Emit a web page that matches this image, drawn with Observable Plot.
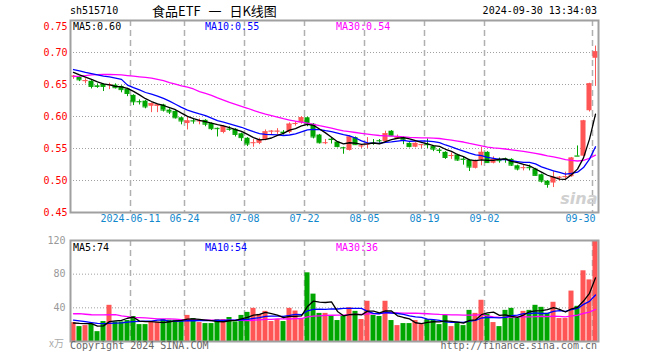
<!DOCTYPE html>
<html><head><meta charset="utf-8">
<script src="https://cdn.jsdelivr.net/npm/d3@7"></script>
<script src="https://cdn.jsdelivr.net/npm/@observablehq/plot@0.6"></script>
<style>
body{margin:0;background:#fff;}
#wrap{position:relative;width:660px;height:360px;overflow:hidden;font-family:"DejaVu Sans Mono",monospace;}
.t{position:absolute;white-space:nowrap;font-size:10px;line-height:12px;}
.p{position:absolute;left:0;}
</style></head><body><div id="wrap"></div>
<script>
// ---- data ----
const dates = [
"2024-05-27","2024-05-28","2024-05-29","2024-05-30","2024-05-31",
"2024-06-03","2024-06-04","2024-06-05","2024-06-06","2024-06-07",
"2024-06-11","2024-06-12","2024-06-13","2024-06-14",
"2024-06-17","2024-06-18","2024-06-19","2024-06-20","2024-06-21",
"2024-06-24","2024-06-25","2024-06-26","2024-06-27","2024-06-28",
"2024-07-01","2024-07-02","2024-07-03","2024-07-04","2024-07-05",
"2024-07-08","2024-07-09","2024-07-10","2024-07-11","2024-07-12",
"2024-07-15","2024-07-16","2024-07-17","2024-07-18","2024-07-19",
"2024-07-22","2024-07-23","2024-07-24","2024-07-25","2024-07-26",
"2024-07-29","2024-07-30","2024-07-31","2024-08-01","2024-08-02",
"2024-08-05","2024-08-06","2024-08-07","2024-08-08","2024-08-09",
"2024-08-12","2024-08-13","2024-08-14","2024-08-15","2024-08-16",
"2024-08-19","2024-08-20","2024-08-21","2024-08-22","2024-08-23",
"2024-08-26","2024-08-27","2024-08-28","2024-08-29","2024-08-30",
"2024-09-02","2024-09-03","2024-09-04","2024-09-05","2024-09-06",
"2024-09-09","2024-09-10","2024-09-11","2024-09-12","2024-09-13",
"2024-09-18","2024-09-19","2024-09-20",
"2024-09-23","2024-09-24","2024-09-25","2024-09-26","2024-09-27",
"2024-09-30"];
const open = [0.662,0.6615,0.655,0.655,0.648,0.650,0.648,0.649,0.647,0.643,
0.633,0.6235,0.624,0.616,0.616,0.618,0.610,0.608,0.598,0.589,
0.5935,0.5925,0.594,0.589,0.5815,0.575,0.5805,0.580,0.573,0.566,
0.5585,0.558,0.563,0.5765,0.5765,0.5755,0.575,0.5885,0.590,0.598,
0.588,0.571,0.5585,0.5645,0.560,0.5515,0.547,0.567,0.5535,0.556,
0.5585,0.5625,0.561,0.577,0.5665,0.567,0.558,0.552,0.5555,0.5565,
0.553,0.5475,0.544,0.5385,0.540,0.5335,0.532,0.519,0.532,0.544,
0.527,0.5315,0.534,0.533,0.523,0.5195,0.5205,0.518,0.509,0.499,
0.496,0.5045,0.5055,0.506,0.5385,0.538,0.609,0.691];
const high = [0.664,0.662,0.659,0.656,0.651,0.651,0.652,0.651,0.648,0.644,
0.634,0.626,0.625,0.621,0.619,0.619,0.612,0.609,0.599,0.599,
0.597,0.596,0.595,0.590,0.582,0.586,0.584,0.581,0.574,0.567,
0.564,0.566,0.579,0.578,0.581,0.578,0.590,0.592,0.600,0.599,
0.589,0.572,0.564,0.567,0.561,0.552,0.570,0.568,0.556,0.567,
0.564,0.564,0.577,0.578,0.571,0.568,0.559,0.559,0.5565,0.565,
0.554,0.550,0.545,0.543,0.541,0.536,0.533,0.532,0.552,0.545,
0.537,0.535,0.535,0.534,0.524,0.524,0.524,0.519,0.510,0.500,
0.514,0.506,0.513,0.536,0.554,0.594,0.652,0.710];
const low = [0.658,0.6545,0.651,0.643,0.644,0.639,0.642,0.643,0.637,0.631,
0.617,0.618,0.612,0.606,0.606,0.607,0.603,0.596,0.587,0.579,
0.588,0.587,0.584,0.578,0.568,0.573,0.577,0.568,0.561,0.553,
0.552,0.556,0.562,0.571,0.572,0.571,0.573,0.585,0.588,0.584,
0.565,0.557,0.556,0.557,0.551,0.541,0.546,0.555,0.550,0.550,
0.555,0.558,0.560,0.569,0.564,0.556,0.551,0.551,0.550,0.550,
0.545,0.542,0.533,0.533,0.530,0.524,0.514,0.518,0.523,0.527,
0.526,0.527,0.527,0.522,0.515,0.515,0.515,0.507,0.496,0.488,
0.489,0.499,0.502,0.505,0.538,0.537,0.607,0.647];
const close = [0.663,0.6573,0.656,0.647,0.647,0.647,0.650,0.645,0.642,0.636,
0.623,0.623,0.615,0.620,0.618,0.610,0.607,0.598,0.593,0.593,
0.593,0.593,0.588,0.581,0.581,0.584,0.580,0.572,0.567,0.557,
0.559,0.563,0.576,0.577,0.577,0.575,0.588,0.589,0.598,0.588,
0.568,0.559,0.559,0.564,0.553,0.551,0.568,0.556,0.554,0.557,
0.558,0.562,0.573,0.570,0.567,0.563,0.553,0.558,0.556,0.556,
0.549,0.547,0.536,0.539,0.532,0.533,0.521,0.531,0.544,0.528,
0.533,0.531,0.533,0.524,0.518,0.520,0.520,0.508,0.499,0.494,
0.505,0.505,0.506,0.535,0.538,0.593,0.651,0.701];
const volume = [22.5,17.7,18.9,20.9,11.7,23.7,43.0,23.3,23.3,24.9,
29.7,20.1,20.1,22.9,22.9,26.1,25.3,25.3,25.3,31.0,
27.3,22.5,21.3,21.3,26.1,26.1,28.5,23.3,31.0,34.6,
39.4,32.2,35.8,23.7,26.1,23.7,39.4,36.2,26.9,81.6,
56.3,33.4,33.4,30.4,24.9,30.6,40.2,35.8,26.1,47.8,
31.0,29.7,47.8,24.9,18.9,21.3,21.3,24.9,20.1,26.1,
24.9,20.1,31.0,17.7,21.3,18.9,37.0,33.4,49.0,32.2,
22.5,17.7,37.0,39.4,27.3,35.8,37.0,43.0,40.6,33.4,
46.6,27.3,27.3,59.9,41.8,84.0,73.2,119.0];
const priceMa5Lead = [0.669,0.665,0.6615,0.658];
const priceMa10Lead = [0.6734,0.6714,0.669,0.667,0.665,0.663,0.662,0.660,0.658];
const priceMa30Lead = [0.6625,0.663,0.664,0.665,0.6655,0.6656,0.6656,0.6655,0.665,0.664,
0.663,0.662,0.661,0.660,0.658,0.656,0.653,0.6505,0.648,0.646,
0.643,0.639,0.636,0.633,0.629,0.6255,0.622,0.619,0.616];
const volMa5Lead = [22.0,21.5,21.3,21.2];
const volMa10Lead = [25.5,24.5,23.5,22.5,21.5,21.3,21.5,21.8,22.2];
const volMa30Lead = [33.0,33.0,32.4,31.8,31.6,31.6,31.8,31.8,30.5,29.5,
28.5,28.3,28.1,27.5,27.0,26.9,26.9,26.5,26.0,25.8,
25.7,25.6,25.5,25.4,25.3,25.3,25.3,25.2,25.2];
const tickDates = ["2024-06-11","2024-06-24","2024-07-08","2024-07-22","2024-08-05","2024-08-19","2024-09-02","2024-09-30"];
const tickLabels = ["2024-06-11","06-24","07-08","07-22","08-05","08-19","09-02","09-30"];
const priceTicks = [0.45,0.50,0.55,0.60,0.65,0.70,0.75];
const priceGrid = [0.50,0.55,0.60,0.65,0.70];
const volTicks = [40,80,120];
const volGrid = [40,80];
const priceLegend = ["MA5:0.60","MA10:0.55","MA30:0.54"];
const volLegend = ["MA5:74","MA10:54","MA30:36"];
const legendColors = ["#000000","#0000ff","#ff00ff"];

// ---- derived ----
const RED = "#ff5555", GREEN = "#00a600";
const N = dates.length;
const rows = dates.map((d, i) => ({i, d, o: open[i], h: high[i], l: low[i], c: close[i], v: volume[i],
  col: close[i] > open[i] ? RED : GREEN}));
function rolling(vals, k, lead) {
  return vals.map((_, i) => i < k - 1 ? lead[i] : d3.mean(vals.slice(i - k + 1, i + 1)));
}
function maRows(vals, k, lead, key) {
  return rolling(vals, k, lead).map((m, i) => ({i, m, key}));
}
const pMA = [
  ...maRows(close, 30, priceMa30Lead, "ma30"),
  ...maRows(close, 10, priceMa10Lead, "ma10"),
  ...maRows(close, 5, priceMa5Lead, "ma5")];
const vMA = [
  ...maRows(volume, 30, volMa30Lead, "ma30"),
  ...maRows(volume, 10, volMa10Lead, "ma10"),
  ...maRows(volume, 5, volMa5Lead, "ma5")];
const maColor = {ma5: "#000000", ma10: "#0000ff", ma30: "#ff00ff"};
const ticks = tickDates.map((d, k) => ({i: dates.indexOf(d), label: tickLabels[k]}));
const legX = [73, 205, 336];

const FONT = "DejaVu Sans Mono";
const common = {width: 660, marginLeft: 70, marginRight: 62,
  x: {domain: [0, N], axis: null}, color: {type: "identity"},
  style: {overflow: "visible", background: "transparent", fontFamily: FONT, fontSize: "10px"}};

const pricePlot = Plot.plot({
  ...common, height: 232, marginTop: 20, marginBottom: 20,
  y: {domain: [0.45, 0.75], axis: null},
  marks: [
    Plot.ruleY(priceGrid, {stroke: "#a0a0a0", strokeDasharray: "1,2"}),
    Plot.ruleX(ticks, {x: "i", stroke: "#b0b0b0", strokeWidth: 1.5, strokeDasharray: "6,4"}),
    Plot.text(["sina"], {frameAnchor: "bottom-right", textAnchor: "end", dx: -1, dy: -9, fill: "#d0d0d0",
      fontSize: 16, fontWeight: "bold", fontStyle: "italic", fontFamily: "DejaVu Sans"}),
    Plot.ruleX(rows, {x: d => d.i + 0.5, y1: "l", y2: "h", stroke: "col", strokeWidth: 1}),
    Plot.rect(rows, {x1: d => d.i + 0.08, x2: d => d.i + 0.92, y1: d => Math.min(d.o, d.c), y2: d => Math.max(d.o, d.c), fill: "col"}),
    Plot.ruleY(rows, {x1: d => d.i + 0.08, x2: d => d.i + 0.92, y: "c", stroke: "col"}),
    Plot.line(pMA, {x: d => d.i + 0.5, y: "m", z: "key", stroke: d => maColor[d.key], strokeWidth: 1.3}),
    Plot.frame({stroke: "#a0a0a0", strokeWidth: 2}),
    Plot.text(priceTicks.slice(0, -1), {y: d => d, text: d => d.toFixed(2), frameAnchor: "left", textAnchor: "end", dx: -3, fill: "#ff0000"}),
    Plot.text([priceTicks[priceTicks.length - 1]], {frameAnchor: "top-left", text: d => d.toFixed(2), textAnchor: "end", dx: -3, dy: 2, fill: "#ff0000"}),
    Plot.text(ticks.slice(0, -1), {x: "i", text: "label", frameAnchor: "bottom", dy: 9, fill: "#1187cc"}),
    Plot.text(ticks.slice(-1), {x: "i", text: "label", frameAnchor: "bottom", dy: 9, dx: 3, textAnchor: "end", fill: "#1187cc"})
  ]
});

const volPlot = Plot.plot({
  ...common, height: 128, marginTop: 8, marginBottom: 19,
  y: {domain: [0, 120], axis: null},
  marks: [
    Plot.ruleY(volGrid, {stroke: "#a0a0a0", strokeDasharray: "1,2"}),
    Plot.ruleX(ticks, {x: "i", stroke: "#b0b0b0", strokeWidth: 1.5, strokeDasharray: "6,4"}),
    Plot.rectY(rows, {x1: d => d.i + 0.08, x2: d => d.i + 0.92, y: "v", fill: "col"}),
    Plot.line(vMA, {x: d => d.i + 0.5, y: "m", z: "key", stroke: d => maColor[d.key], strokeWidth: 1.3}),
    Plot.frame({stroke: "#a0a0a0", strokeWidth: 2}),
    Plot.text(volTicks, {y: d => d, text: d => String(d), frameAnchor: "left", textAnchor: "end", dx: -5, fill: "#999999"})
  ]
});

// MA legends at fixed offsets inside each panel
function legendTexts(svg, labels, top) {
  const g = d3.select(svg).append("g").attr("font-family", FONT).attr("font-size", 10).attr("text-anchor", "start");
  labels.forEach((t, k) => g.append("text").attr("x", legX[k]).attr("y", top).attr("text-anchor", "start").attr("fill", legendColors[k]).text(t));
}

const wrap = document.getElementById("wrap");
function place(el, top) { el.classList.add("p"); el.style.top = top + "px"; wrap.appendChild(el); }
place(pricePlot, 0);
place(volPlot, 232);
legendTexts(pricePlot, priceLegend, 30);
legendTexts(volPlot, volLegend, 19);

function txt(s, style) { const d = document.createElement("div"); d.className = "t"; d.textContent = s; Object.assign(d.style, style); wrap.appendChild(d); }
txt("sh515710", {left: "70px", top: "5px", color: "#000"});
txt("食品ETF 一 日K线图", {left: "152px", top: "3px", fontSize: "13px", lineHeight: "16px", wordSpacing: "5px", fontFamily: "'Noto Sans CJK SC', sans-serif", color: "#000"});
txt("2024-09-30 13:34:03", {right: "63px", top: "5px", color: "#000"});
txt("x万", {left: "49px", top: "337px", color: "#aaaaaa", fontFamily: "'Noto Sans CJK SC', serif"});
txt("Copyright 2024 SINA.COM", {left: "70px", top: "340px", color: "#666"});
txt("http://finance.sina.com.cn", {right: "63px", top: "340px", color: "#666"});
</script></body></html>
